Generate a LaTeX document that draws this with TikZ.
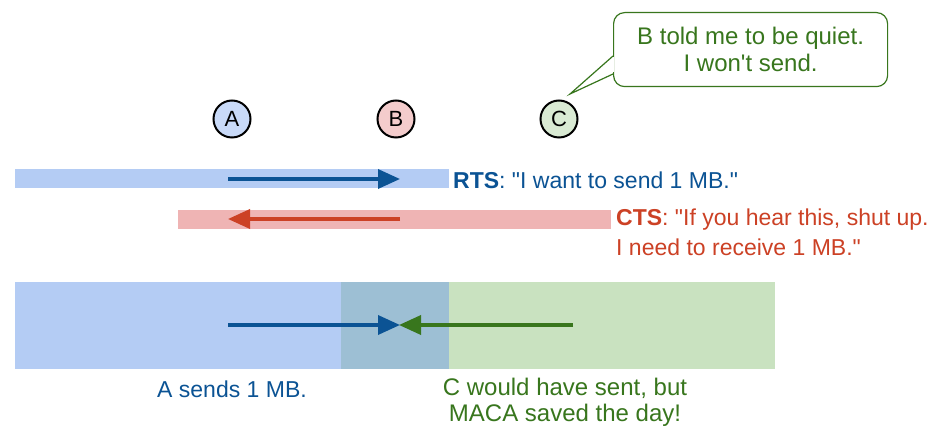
\documentclass[tikz,border=0pt]{standalone}
\usepackage{fontspec}
\setmainfont{Liberation Sans}[Ligatures=TeXOff]
\usetikzlibrary{arrows.meta}
\definecolor{dblue}{HTML}{0B5394}
\definecolor{dred}{HTML}{CC4125}
\definecolor{dgreen}{HTML}{38761D}
\definecolor{barblue}{HTML}{B4CCF4}
\definecolor{barpink}{HTML}{EFB4B4}
\definecolor{bargreen}{HTML}{C9E2C0}
\definecolor{overlap}{HTML}{9DBFD4}
\definecolor{cA}{HTML}{C9DAF8}
\definecolor{cB}{HTML}{F4CCCC}
\definecolor{cC}{HTML}{D9EAD3}
\begin{document}
\begin{tikzpicture}[x=1pt,y=-1pt,
  station/.style={circle,draw=black,line width=2pt,minimum size=37pt,inner sep=0pt,font=\fontsize{22}{24}\selectfont},
  bar/.style={draw=none,inner sep=0pt,anchor=north west},
  msg/.style={line width=3.5pt,-{Triangle[length=22pt,width=19pt]}},
  lbl/.style={font=\fontsize{23}{28}\selectfont,inner sep=0pt}
]
\useasboundingbox (0,0) rectangle (946,435);
\fill[white] (0,0) rectangle (946,435);

% stations
\node[station,fill=cA] (A) at (232,119) {A};
\node[station,fill=cB] (B) at (396,119) {B};
\node[station,fill=cC] (C) at (559,119) {C};

% callout
\node[draw=dgreen,line width=1.2pt,rounded corners=11pt,minimum width=274pt,minimum height=74pt,anchor=north west,
  align=center,text=dgreen,font=\fontsize{24}{27}\selectfont] (bubble) at (613,12) {B told me to be quiet.\\I won't send.};
\coordinate (tip) at (570,94);
\coordinate (p1) at ([yshift=-44pt]bubble.north west);
\coordinate (p2) at ([yshift=-62pt]bubble.north west);
\draw[white,line width=2.5pt] ([yshift=-1.5pt]p1) -- ([yshift=1.5pt]p2);
\draw[dgreen,line width=1.2pt,line join=miter] (p1) -- (tip) -- (p2);

% RTS
\node[bar,fill=barblue,minimum width=434pt,minimum height=19pt] (rts) at (15,169) {};
\coordinate (rtsS) at (228,179);
\coordinate (rtsE) at (400,179);
\draw[msg,dblue] (rtsS) -- (rtsE);
\node[lbl,anchor=west,text=dblue] (rtsT) at (453,180) {\textbf{RTS}: "I want to send 1 MB."};

% CTS
\node[bar,fill=barpink,minimum width=433pt,minimum height=19pt] (cts) at (178,210) {};
\coordinate (ctsS) at (400,219);
\coordinate (ctsE) at (228,219);
\draw[msg,dred] (ctsS) -- (ctsE);
\node[lbl,anchor=north west,align=left,text=dred,font=\fontsize{23}{30}\selectfont] (ctsT) at (616,209) {\textbf{CTS}: "If you hear this, shut up.\\I need to receive 1 MB."};

% data
\node[bar,fill=barblue,minimum width=326pt,minimum height=87pt] (dA) at (15,282) {};
\node[bar,fill=overlap,minimum width=108pt,minimum height=87pt] (dO) at (341,282) {};
\node[bar,fill=bargreen,minimum width=326pt,minimum height=87pt] (dC) at (449,282) {};
\coordinate (aS) at (228,325);
\coordinate (aE) at (400,325);
\coordinate (gS) at (573,325);
\coordinate (gE) at (399,325);
\draw[msg,dblue] (aS) -- (aE);
\draw[msg,dgreen] (gS) -- (gE);
\node[lbl,text=dblue] (aT) at (232,389) {A sends 1 MB.};
\node[lbl,text=dgreen,align=center,font=\fontsize{24}{26}\selectfont] (cT) at (565,402) {C would have sent, but\\MACA saved the day!};
\end{tikzpicture}
\end{document}
